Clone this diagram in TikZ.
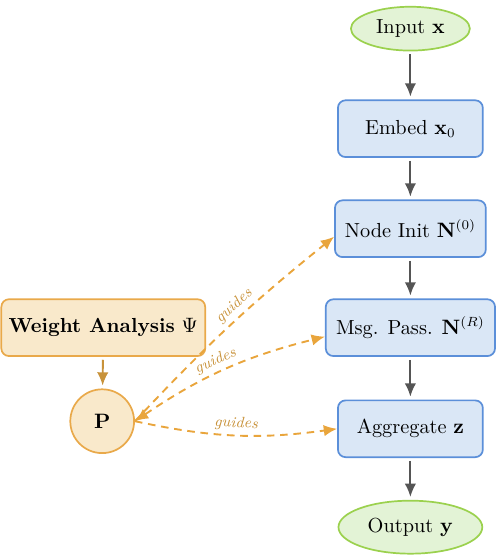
\documentclass[tikz,border=0pt]{standalone}
\usetikzlibrary{shapes.geometric,arrows.meta}
\definecolor{blueFill}{HTML}{DAE7F6}
\definecolor{blueLine}{HTML}{5B8FD9}
\definecolor{greenFill}{HTML}{E3F3D6}
\definecolor{greenLine}{HTML}{9BD14E}
\definecolor{orangeFill}{HTML}{F9E9CB}
\definecolor{orangeLine}{HTML}{E9A94A}
\definecolor{guideCol}{HTML}{E9A53C}
\definecolor{darkArrow}{HTML}{555555}
\definecolor{brownArrow}{HTML}{C8923A}
\begin{document}
\begin{tikzpicture}[
    every node/.style={font=\fontsize{10.7pt}{13pt}\selectfont},
    stage/.style={draw=blueLine, fill=blueFill, line width=0.9pt, rounded corners=4pt,
        minimum width=2.68cm, minimum height=1.05cm},
    terminal/.style={ellipse, draw=greenLine, fill=greenFill, line width=0.9pt,
        minimum width=2.2cm, minimum height=0.81cm, inner sep=0pt},
    analysis/.style={draw=orangeLine, fill=orangeFill, line width=0.9pt, rounded corners=4pt,
        minimum width=3.77cm, minimum height=1.05cm},
    proj/.style={circle, draw=orangeLine, fill=orangeFill, line width=0.9pt,
        minimum size=1.18cm, inner sep=0pt},
    flow/.style={-{Latex[length=7pt,width=6pt]}, draw=darkArrow, line width=1pt,
        shorten <=1.5pt, shorten >=1.5pt},
    guide/.style={-{Latex[length=7pt,width=6pt]}, draw=guideCol, line width=1pt,
        dash pattern=on 4pt off 3pt},
    guidelabel/.style={font=\footnotesize\itshape, text=brownArrow, sloped, above, inner sep=2pt}
]
    \useasboundingbox (0,0) rectangle (9.18,10.32);

    \node[terminal] (input) at (7.59,9.79) {Input $\mathbf{x}$};
    \node[stage] (embed) at (7.59,7.94) {Embed $\mathbf{x}_0$};
    \node[stage, minimum width=2.79cm] (init) at (7.59,6.09) {Node Init $\mathbf{N}^{(0)}$};
    \node[stage, minimum width=3.13cm] (msg) at (7.59,4.26) {Msg. Pass. $\mathbf{N}^{(R)}$};
    \node[stage] (agg) at (7.59,2.39) {Aggregate $\mathbf{z}$};
    \node[terminal, minimum width=2.66cm, minimum height=0.98cm] (output) at (7.59,0.57)
        {Output $\mathbf{y}$};

    \node[analysis] (weight) at (1.91,4.26) {\textbf{Weight Analysis} $\Psi$};
    \node[proj] (P) at (1.89,2.53) {$\mathbf{P}$};

    \foreach \a/\b in {input/embed,embed/init,init/msg,msg/agg,agg/output}
        {\draw[flow] (\a) -- (\b);}
    \draw[flow, draw=brownArrow] (weight) -- (P);

    \draw[guide] (P.east) to[bend left=4] node[guidelabel, pos=0.56] {guides} (init.186);
    \draw[guide, {Latex[length=7pt,width=6pt]}-{Latex[length=7pt,width=6pt]}] (P.east)
        to[bend left=10] node[guidelabel, pos=0.47] {guides} (msg.186);
    \draw[guide] (P.east) to[bend right=10] node[guidelabel, pos=0.5] {guides} (agg.west);
\end{tikzpicture}
\end{document}
